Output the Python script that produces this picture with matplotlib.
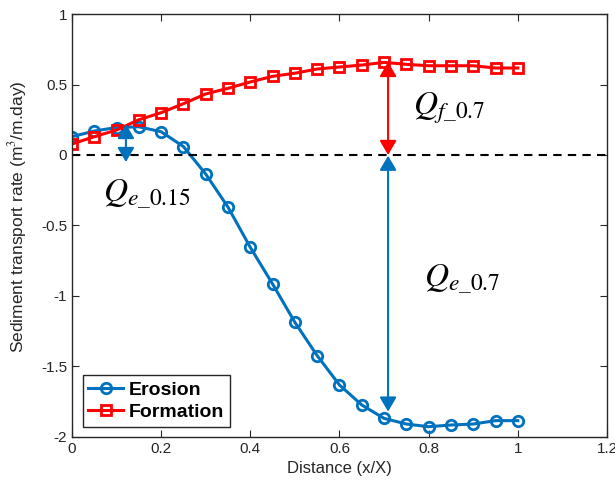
import matplotlib
matplotlib.use("Agg")
import matplotlib.pyplot as plt
import numpy as np

plt.rcParams["font.family"] = ["Liberation Sans", "DejaVu Sans"]
plt.rcParams["mathtext.fontset"] = "stix"

distance = np.arange(0, 1.0001, 0.05)
erosion = [0.13, 0.17, 0.195, 0.20, 0.165, 0.06, -0.135, -0.37, -0.655, -0.915,
           -1.187, -1.423, -1.631, -1.773, -1.868, -1.908, -1.927, -1.915, -1.908,
           -1.884, -1.884]
formation = [0.078, 0.13, 0.177, 0.25, 0.30, 0.364, 0.433, 0.473, 0.518, 0.558,
             0.58, 0.61, 0.624, 0.638, 0.657, 0.643, 0.633, 0.633, 0.633, 0.617,
             0.617]

blue = "#0072BD"
red = "#FF0000"

fig = plt.figure(figsize=(6.15, 4.93), dpi=100)
ax = fig.add_axes([0.117, 0.1136, 0.87, 0.858])

ax.plot(distance, erosion, "-o", color=blue, lw=2.2, ms=7.5, mfc="none", mew=2.0, label="Erosion")
ax.plot(distance, formation, "-s", color=red, lw=2.2, ms=6.5, mfc="none", mew=2.0, label="Formation")
ax.axhline(0, color="black", ls="--", lw=1.5, dashes=(4, 3))

arrow = dict(arrowstyle="<|-|>,head_length=0.58,head_width=0.34", lw=1.5,
             mutation_scale=15, shrinkA=0, shrinkB=0)
ax.annotate("", xy=(0.121, 0.22), xytext=(0.121, -0.05), arrowprops=dict(arrow, color=blue))
ax.annotate("", xy=(0.709, 0.66), xytext=(0.709, 0.0), arrowprops=dict(arrow, color=red))
ax.annotate("", xy=(0.709, -0.005), xytext=(0.709, -1.82), arrowprops=dict(arrow, color=blue))

ax.text(0.07, -0.28, r"$Q_{e\_0.15}$", fontsize=24, va="center", ha="left")
ax.text(0.765, 0.33, r"$Q_{f\_0.7}$", fontsize=24, va="center", ha="left")
ax.text(0.79, -0.88, r"$Q_{e\_0.7}$", fontsize=24, va="center", ha="left")

ax.set_xlim(0, 1.2)
ax.set_ylim(-2, 1)
ax.set_xticks([0, 0.2, 0.4, 0.6, 0.8, 1.0, 1.2])
ax.set_xticklabels(["0", "0.2", "0.4", "0.6", "0.8", "1", "1.2"])
ax.set_yticks([-2, -1.5, -1, -0.5, 0, 0.5, 1])
ax.set_yticklabels(["-2", "-1.5", "-1", "-0.5", "0", "0.5", "1"])
ax.tick_params(direction="in", top=True, right=True, labelsize=11, colors="#262626", length=5)
for s in ax.spines.values():
    s.set_color("#262626")
    s.set_linewidth(1.0)

ax.set_xlabel("Distance (x/X)", fontsize=12, color="#262626")
ax.set_ylabel(r"Sediment transport rate (m$^{3}$/m.day)", fontsize=12.5, color="#262626")
ax.yaxis.set_label_coords(-0.08, 0.522)

leg = ax.legend(loc="lower left", bbox_to_anchor=(0.02, 0.024), prop={"weight": "bold", "size": 14},
                fancybox=False, edgecolor="#262626", framealpha=1, handlelength=1.8,
                handletextpad=0.25, borderpad=0.3, labelspacing=0.25, borderaxespad=0)
leg.get_frame().set_linewidth(1.0)

fig.savefig("out.png", dpi=100)
